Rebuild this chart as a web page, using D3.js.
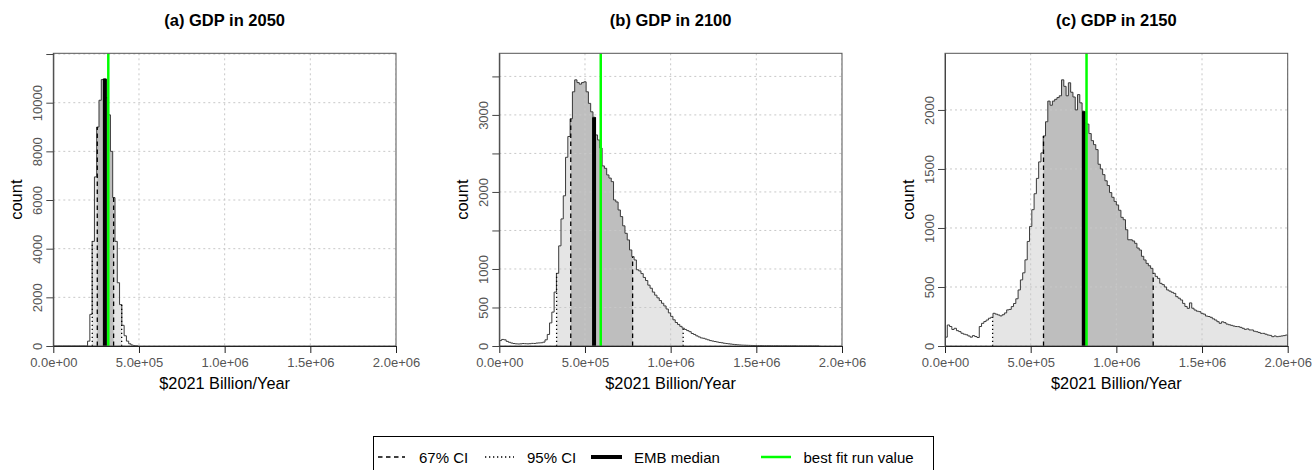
<!DOCTYPE html>
<html lang="en">
<head>
<meta charset="UTF-8">
<title>GDP histograms</title>
<script src="https://cdn.jsdelivr.net/npm/d3@7"></script>
<style>
  body { margin: 0; background: #fff; }
  svg { display: block; font-family: "Liberation Sans", Arial, sans-serif; }
</style>
</head>
<body>
<svg width="1316" height="470"></svg>
<script>
// histogram bins: 150 equal bins over 0 .. 2e6
const binWidth = 2e6 / 150;

const titles = ["(a) GDP in 2050", "(b) GDP in 2100", "(c) GDP in 2150"];

const counts2050 = [
  0, 0, 0, 0, 0, 0, 0, 0, 0, 0, 0, 0, 0, 0, 0,
  200, 1300, 4300, 6950, 9000, 10100, 10950, 10980, 10200, 9500,
  8000, 6100, 4300, 2600, 1700, 850, 420, 200, 90, 40, 18, 8
];

const counts2100 = [
  70, 85, 80, 60, 48, 38, 32, 28, 26, 28, 32, 30, 28, 30, 34, 33, 38, 40, 42, 50,
  80, 150, 300, 440, 700, 944, 1300, 1650, 1950, 2450, 2720, 2950, 3300, 3455, 3420, 3400, 3420, 3430, 3300, 3150,
  3040, 2970, 2740, 2675, 2570, 2338, 2307, 2221, 2180, 2134, 1896, 1870, 1766, 1680, 1560, 1463, 1377, 1247, 1160, 1117,
  990, 975, 940, 890, 850, 790, 750, 700, 660, 625, 590, 555, 520, 480, 430, 385, 340, 305, 280, 255,
  232, 215, 200, 186, 162, 150, 132, 118, 105, 100, 90, 80, 70, 64, 58, 52, 46, 42, 36, 32,
  28, 25, 21, 18, 15, 13, 11, 10, 9, 8, 7, 6, 6, 5, 5, 4, 4, 4, 3, 3,
  3, 3, 2, 2, 2, 2, 2, 2, 2, 2, 1, 1, 1, 1, 1, 1, 1, 1, 1, 1
];

const counts2150 = [
  75, 178, 165, 140, 150, 130, 122, 108, 100, 95, 85, 75, 88, 80, 72, 165, 192, 207, 220, 235,
  243, 277, 270, 263, 255, 265, 280, 306, 310, 334, 360, 400, 475, 560, 620, 730, 886, 1013, 1155, 1290,
  1420, 1560, 1636, 1780, 1900, 2075, 2040, 2075, 2090, 2105, 2120, 2255, 2200, 2120, 2230, 2150, 2110, 2000, 2130, 2060,
  1990, 1890, 1880, 1800, 1740, 1706, 1664, 1540, 1500, 1452, 1400, 1360, 1300, 1260, 1225, 1195, 1150, 1090, 1070, 985,
  900, 900, 890, 870, 830, 813, 760, 729, 700, 680, 658, 616, 590, 573, 531, 520, 500, 475, 465, 455,
  446, 418, 405, 390, 361, 335, 319, 365, 320, 305, 295, 291, 277, 270, 254, 250, 243, 230, 220, 206,
  192, 205, 198, 186, 180, 175, 169, 165, 164, 158, 150, 141, 145, 136, 136, 125, 121, 115, 107, 107,
  100, 93, 90, 79, 85, 79, 82, 85, 88, 93
];

const medians = [301000, 553000, 810000];
const bestFit = [321000, 592000, 826000];
const ci67 = [[256700, 352000], [417000, 778000], [575000, 1215000]];
const ci95 = [[227500, 399000], [334500, 1073000], [278000, 2400000]];

const yMax = [12030, 3800, 2480];
const yTicks = [
  [0, 2000, 4000, 6000, 8000, 10000, 12000],
  [0, 500, 1000, 1500, 2000, 2500, 3000, 3500],
  [0, 500, 1000, 1500, 2000]
];
const yLabels = [
  [0, 2000, 4000, 6000, 8000, 10000],
  [0, 500, 1000, 2000, 3000],
  [0, 500, 1000, 1500, 2000]
];
const xTicks = [0, 5e5, 1e6, 1.5e6, 2e6];

const legendLabels = ["67% CI", "95% CI", "EMB median", "best fit run value"];

// layout
const plotLeft = [53.3, 499.3, 945];
const plotTop = 53.3, plotW = 342.7, plotH = 292.7;
const tickCol = "#555";
const green = "#00ff00";

const svg = d3.select("svg");
const allCounts = [counts2050, counts2100, counts2150];

const fmtSci = d => d.toExponential(1).replace(/e([+-])(\d)$/, "e$10$2");

allCounts.forEach((counts, p) => {
  const g = svg.append("g").attr("transform", `translate(${plotLeft[p]},${plotTop})`);
  const x = d3.scaleLinear().domain([0, 2e6]).range([0, plotW]);
  const y = d3.scaleLinear().domain([0, yMax[p]]).range([plotH, 0]);

  const heightAt = v => counts[Math.floor(v / binWidth)] || 0;

  const pts = counts.map((c, i) => [i * binWidth, c]);
  pts.push([counts.length * binWidth, counts[counts.length - 1]]);
  pts.push([counts.length * binWidth, 0]);

  const defs = g.append("defs");
  const clipId = "plot" + p;
  defs.append("clipPath").attr("id", clipId)
    .append("rect").attr("width", plotW).attr("height", plotH);

  const area = d3.area().x(d => x(d[0])).y0(y(0)).y1(d => y(d[1])).curve(d3.curveStepAfter);
  const line = d3.line().x(d => x(d[0])).y(d => y(d[1])).curve(d3.curveStepAfter);

  const inner = g.append("g").attr("clip-path", `url(#${clipId})`);

  // shaded CI regions
  [[ci95[p], "#e5e5e5"], [ci67[p], "#bebebe"]].forEach(([ci, col], k) => {
    const id = `ci${p}_${k}`;
    defs.append("clipPath").attr("id", id)
      .append("rect")
      .attr("x", x(ci[0])).attr("y", 0)
      .attr("width", x(ci[1]) - x(ci[0])).attr("height", plotH);
    inner.append("path").datum(pts)
      .attr("d", area).attr("fill", col)
      .attr("clip-path", `url(#${id})`);
  });

  // grid
  inner.selectAll(".hgrid").data(yTicks[p]).join("line")
    .attr("x1", 0).attr("x2", plotW)
    .attr("y1", d => y(d)).attr("y2", d => y(d))
    .attr("stroke", "#c8c8c8").attr("stroke-dasharray", "2,3");
  inner.selectAll(".vgrid").data(xTicks).join("line")
    .attr("x1", d => x(d)).attr("x2", d => x(d))
    .attr("y1", 0).attr("y2", plotH)
    .attr("stroke", "#c8c8c8").attr("stroke-dasharray", "2,3");

  // histogram outline
  inner.append("path").datum([[0, 0], ...pts])
    .attr("d", line).attr("fill", "none")
    .attr("stroke", "#3a3a3a").attr("stroke-width", 1);

  // CI lines
  ci67[p].forEach(v => {
    inner.append("line")
      .attr("x1", x(v)).attr("x2", x(v)).attr("y1", y(0)).attr("y2", y(heightAt(v)))
      .attr("stroke", "#000").attr("stroke-width", 1.3).attr("stroke-dasharray", "4.5,3.5");
  });
  ci95[p].forEach(v => {
    inner.append("line")
      .attr("x1", x(v)).attr("x2", x(v)).attr("y1", y(0)).attr("y2", y(heightAt(v)))
      .attr("stroke", "#000").attr("stroke-width", 1.3).attr("stroke-dasharray", "1.3,2.7");
  });

  // median and best fit
  inner.append("line")
    .attr("x1", x(medians[p])).attr("x2", x(medians[p]))
    .attr("y1", y(0)).attr("y2", y(heightAt(medians[p])))
    .attr("stroke", "#000").attr("stroke-width", 4);
  inner.append("line")
    .attr("x1", x(bestFit[p])).attr("x2", x(bestFit[p]))
    .attr("y1", 0).attr("y2", plotH)
    .attr("stroke", green).attr("stroke-width", 2.5);

  // box
  g.append("rect").attr("width", plotW).attr("height", plotH)
    .attr("fill", "none").attr("stroke", "#555");

  // x axis
  const xa = g.append("g").attr("transform", `translate(0,${plotH})`)
    .call(d3.axisBottom(x).tickValues(xTicks).tickSize(7).tickSizeOuter(0).tickPadding(5).tickFormat(fmtSci));
  xa.select(".domain").attr("stroke", "#222");
  xa.selectAll(".tick line").attr("stroke", "#222");
  xa.selectAll(".tick text").attr("fill", tickCol)
    .style("font-size", "13px").style("font-family", "Liberation Sans, Arial, sans-serif");

  // y axis
  const ya = g.append("g")
    .call(d3.axisLeft(y).tickValues(yTicks[p]).tickSize(7).tickSizeOuter(0)
      .tickFormat(d => yLabels[p].includes(d) ? d : ""));
  ya.select(".domain").attr("stroke", "#444");
  ya.selectAll(".tick line").attr("stroke", "#444");
  ya.selectAll(".tick text")
    .attr("transform", "rotate(-90)")
    .attr("x", 0).attr("y", -11).attr("dy", null)
    .attr("text-anchor", "middle").attr("fill", tickCol)
    .style("font-size", "13px").style("font-family", "Liberation Sans, Arial, sans-serif");

  // labels
  g.append("text")
    .attr("x", plotW / 2).attr("y", -27)
    .attr("text-anchor", "middle")
    .style("font-size", "16.5px").style("font-weight", "bold")
    .text(titles[p]);
  g.append("text")
    .attr("x", plotW / 2).attr("y", plotH + 43)
    .attr("text-anchor", "middle")
    .style("font-size", "16.3px")
    .text("$2021 Billion/Year");
  g.append("text")
    .attr("transform", `translate(-31.5,${plotH / 2}) rotate(-90)`)
    .attr("text-anchor", "middle")
    .style("font-size", "16.5px")
    .text("count");
});

// legend
const lg = svg.append("g");
lg.append("rect")
  .attr("x", 373.5).attr("y", 436.5).attr("width", 560).attr("height", 60)
  .attr("fill", "#fff").attr("stroke", "#000");
const keyX = [[378, 405], [485, 514], [591, 622], [761, 791]];
const textX = [419, 527, 634, 803.5];
const keyStyle = [
  { w: 1.3, dash: "4.5,3.5", col: "#000" },
  { w: 1.3, dash: "1.3,2.7", col: "#000" },
  { w: 4, dash: null, col: "#000" },
  { w: 2.5, dash: null, col: green }
];
legendLabels.forEach((lab, i) => {
  lg.append("line")
    .attr("x1", keyX[i][0]).attr("x2", keyX[i][1]).attr("y1", 457).attr("y2", 457)
    .attr("stroke", keyStyle[i].col).attr("stroke-width", keyStyle[i].w)
    .attr("stroke-dasharray", keyStyle[i].dash);
  lg.append("text")
    .attr("x", textX[i]).attr("y", 462.5)
    .style("font-size", "15px")
    .text(lab);
});
</script>
</body>
</html>
